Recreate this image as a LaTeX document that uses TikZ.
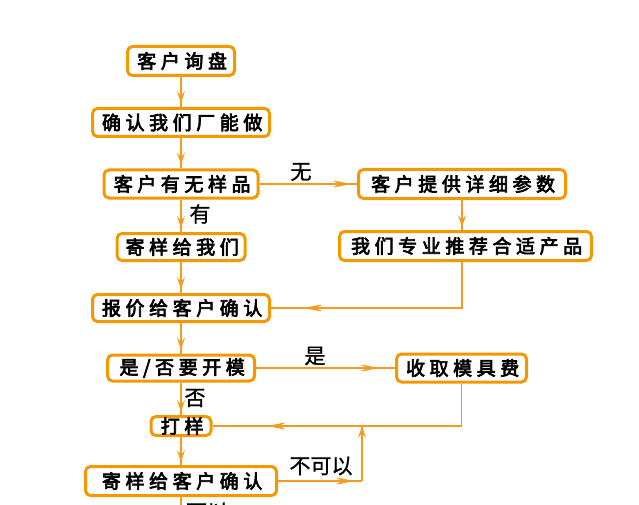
\documentclass[tikz,border=0pt]{standalone}
\usepackage{fontspec}
\usetikzlibrary{arrows.meta,decorations.markings}
\newfontfamily\cjkbox[LetterSpace=24,AutoFakeBold=3.5]{Noto Sans CJK SC}
\newfontfamily\cjklab[AutoFakeBold=1]{Noto Sans CJK SC}
\definecolor{boxor}{HTML}{F39800}
\definecolor{lineor}{HTML}{F29B1E}
\tikzset{
  fbox/.style={draw=boxor, line width=3pt, rounded corners=5pt, fill=white,
    text=black, inner sep=0pt, font=\cjkbox\bfseries\fontsize{19}{20}\selectfont,
    execute at begin node={\hspace{2.3pt}}},
  conn/.style={draw=lineor, line width=1.2pt},
  lab/.style={inner sep=0pt, text=black, font=\cjklab\bfseries\fontsize{21}{22}\selectfont},
  bigarrow/.style={postaction={decorate, decoration={markings,
    mark=at position #1 with {\arrow{Stealth[length=27pt,width=11pt,inset=17pt,color=lineor]}}}}},
  smallarrow/.style={postaction={decorate, decoration={markings,
    mark=at position #1 with {\arrow{Stealth[length=12pt,width=8pt,inset=5pt,color=lineor]}}}}}
}
\begin{document}
\begin{tikzpicture}[x=1pt,y=-1pt]
\useasboundingbox (0,0) rectangle (639,505);
% boxes
\node[fbox, minimum width=107pt, minimum height=29pt] (b1) at (181,61) {客户询盘};
\node[fbox, minimum width=177pt, minimum height=28pt] (b2) at (181,122.5) {确认我们厂能做};
\node[fbox, minimum width=154pt, minimum height=28pt] (b3) at (181,184) {客户有无样品};
\node[fbox, minimum width=207pt, minimum height=29pt] (b4) at (462,184) {客户提供详细参数};
\node[fbox, minimum width=252pt, minimum height=29pt] (b5) at (465.5,246) {我们专业推荐合适产品};
\node[fbox, minimum width=128pt, minimum height=27pt] (b6) at (181,247) {寄样给我们};
\node[fbox, minimum width=177pt, minimum height=27pt] (b7) at (181,308) {报价给客户确认};
\node[fbox, minimum width=147pt, minimum height=26pt] (b8) at (181,368) {是/否要开模};
\node[fbox, minimum width=130pt, minimum height=28pt] (b9) at (461.5,368) {收取模具费};
\node[fbox, minimum width=60pt, minimum height=19pt] (b10) at (181,426) {打样};
\node[fbox, minimum width=191pt, minimum height=29pt] (b11) at (181,481) {寄样给客户确认};
% helper coordinates
\coordinate (c1) at (362,481);
\coordinate (bot) at (181,506);
% labels
\node[lab] (l1) at (301,172) {无};
\node[lab] (l2) at (200,214) {有};
\node[lab] (l3) at (315,356) {是};
\node[lab] (l4) at (195,398) {否};
\node[lab] (l5) at (321,466) {不可以};
\node[lab] (l6) at (207,512) {可以};
% connectors
\draw[conn, smallarrow=-4pt] (b1.south) -- (b2.north);
\draw[conn, smallarrow=-4pt] (b2.south) -- (b3.north);
\draw[conn, smallarrow=-4pt] (b3.south) -- (b6.north);
\draw[conn, smallarrow=-4pt] (b6.south) -- (b7.north);
\draw[conn, smallarrow=-4pt] (b7.south) -- (b8.north);
\draw[conn, smallarrow=-3pt] (b8.south) -- (b10.north);
\draw[conn, smallarrow=-3pt] (b10.south) -- (b11.north);
\draw[conn] (b11.south) -- (bot);
\draw[conn, bigarrow=-6pt] (b3.east) -- (b4.west);
\draw[conn, smallarrow=-3pt] (b4.south) -- (b4.south |- b5.north);
\draw[conn, bigarrow=-33pt] (b4.south |- b5.south) |- (b7.east);
\draw[conn, bigarrow=-16pt] (b8.east) -- (b9.west);
\draw[conn, bigarrow=-55pt] (b9.south) |- (b10.east);
\draw[conn, bigarrow=76pt] (b11.east) -- (c1);
\draw[conn, smallarrow=1] (c1) -- (c1 |- b10.east);
\end{tikzpicture}
\end{document}
